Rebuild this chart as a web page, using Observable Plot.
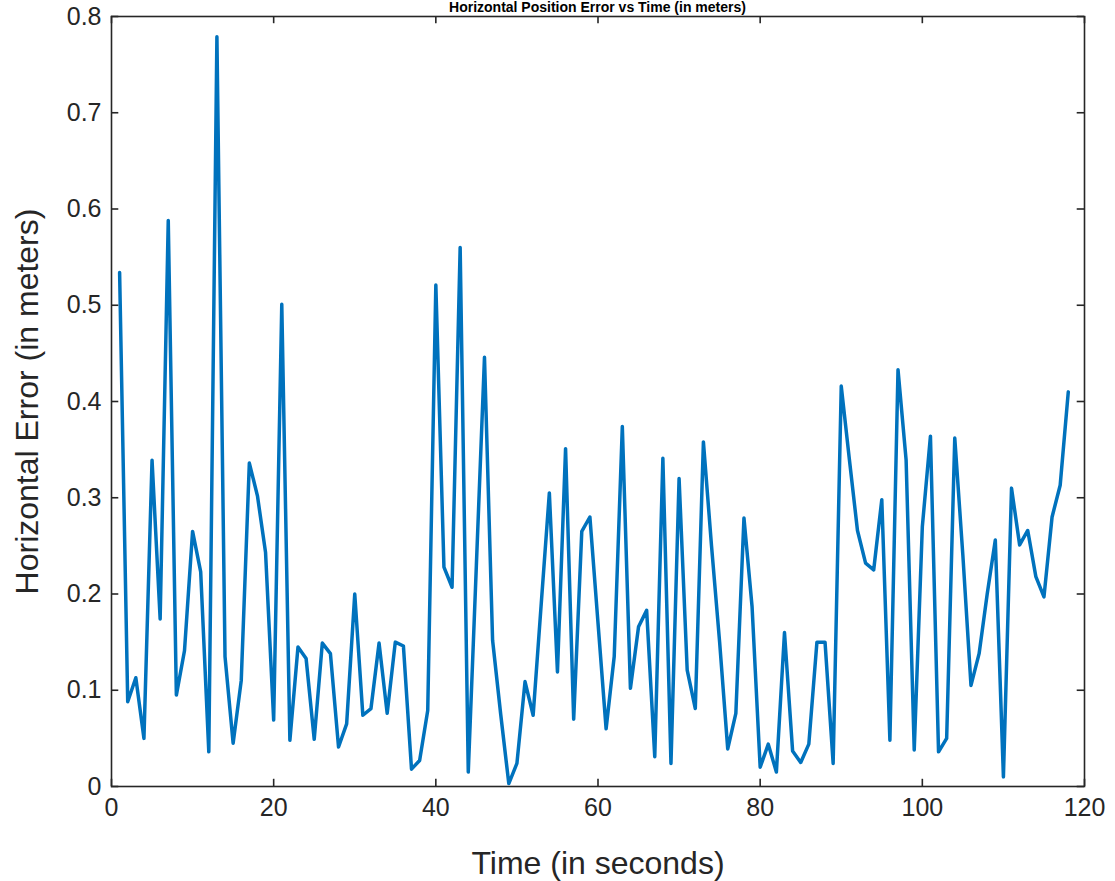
<!DOCTYPE html>
<html>
<head>
<meta charset="utf-8">
<script src="https://cdn.jsdelivr.net/npm/d3@7"></script>
<script src="https://cdn.jsdelivr.net/npm/@observablehq/plot@0.6"></script>
<style>
  html, body { margin: 0; padding: 0; background: #fff; overflow: hidden; }
  #wrap { position: relative; width: 1115px; height: 881px; overflow: hidden; }
  #title { position: absolute; left: 111px; width: 973px; top: 0px; text-align: center;
           font-family: "Liberation Sans", Arial, sans-serif; font-weight: bold; font-size: 14px;
           line-height: 14px; color: #000; white-space: nowrap; }
  #chart { position: absolute; left: 0; top: 0; }
</style>
</head>
<body>
<div id="wrap">
  <div id="chart"></div>
  <div id="title">Horizontal Position Error vs Time (in meters)</div>
</div>
<script>
const times = [1,2,3,4,5,6,7,8,9,10,11,12,13,14,15,16,17,18,19,20,
  21,22,23,24,25,26,27,28,29,30,31,32,33,34,35,36,37,38,39,40,
  41,42,43,44,45,46,47,48,49,50,51,52,53,54,55,56,57,58,59,60,
  61,62,63,64,65,66,67,68,69,70,71,72,73,74,75,76,77,78,79,80,
  81,82,83,84,85,86,87,88,89,90,91,92,93,94,95,96,97,98,99,100,
  101,102,103,104,105,106,107,108,109,110,111,112,113,114,115,116,117,118];
const errors = [0.534,0.088,0.113,0.050,0.339,0.174,0.588,0.095,0.141,0.265,
  0.223,0.036,0.779,0.135,0.045,0.110,0.336,0.302,0.243,0.069,
  0.501,0.048,0.145,0.133,0.049,0.149,0.138,0.041,0.065,0.200,
  0.074,0.081,0.149,0.076,0.150,0.146,0.018,0.027,0.079,0.521,
  0.228,0.207,0.560,0.015,0.230,0.446,0.152,0.075,0.003,0.024,
  0.109,0.074,0.190,0.305,0.119,0.351,0.070,0.265,0.280,0.170,
  0.060,0.135,0.374,0.102,0.166,0.183,0.031,0.341,0.024,0.320,
  0.121,0.081,0.358,0.250,0.150,0.039,0.076,0.279,0.187,0.020,
  0.044,0.015,0.160,0.037,0.025,0.044,0.150,0.150,0.024,0.416,
  0.340,0.266,0.232,0.225,0.298,0.048,0.433,0.339,0.038,0.270,
  0.364,0.036,0.050,0.362,0.240,0.105,0.138,0.200,0.256,0.010,
  0.310,0.251,0.266,0.218,0.197,0.280,0.313,0.410];
const xTicks = [0,20,40,60,80,100,120];
const yTicks = [0,0.1,0.2,0.3,0.4,0.5,0.6,0.7,0.8];
const yTickLabels = ["0","0.1","0.2","0.3","0.4","0.5","0.6","0.7","0.8"];
const xLabel = "Time (in seconds)";
const yLabel = "Horizontal Error (in meters)";

const data = times.map((t, i) => ({t, e: errors[i]}));
const axisColor = "#262626";
const font = "'Liberation Sans', Arial, sans-serif";

const chart = Plot.plot({
  width: 1115,
  height: 881,
  marginLeft: 111,
  marginRight: 31,
  marginTop: 16,
  marginBottom: 95,
  x: {domain: [0, 120]},
  y: {domain: [0, 0.8]},
  style: {fontFamily: font, fontSize: "25px", color: axisColor, background: "#fff", overflow: "visible"},
  marks: [
    Plot.line(data, {x: "t", y: "e", stroke: "#0072BD", strokeWidth: 3.5, strokeLinejoin: "round"}),
    Plot.frame({stroke: axisColor, strokeWidth: 1.6}),
    Plot.ruleX(xTicks, {x: d => d, y1: 0, y2: 0.0075, stroke: axisColor, strokeWidth: 1.6}),
    Plot.ruleX(xTicks, {x: d => d, y1: 0.8, y2: 0.7925, stroke: axisColor, strokeWidth: 1.6}),
    Plot.ruleY(yTicks, {y: d => d, x1: 0, x2: 0.9, stroke: axisColor, strokeWidth: 1.6}),
    Plot.ruleY(yTicks, {y: d => d, x1: 120, x2: 119.1, stroke: axisColor, strokeWidth: 1.6}),
    Plot.axisX(xTicks, {tickSize: 0, tickPadding: 12, label: null, fontSize: 25, fill: axisColor}),
    Plot.axisY(yTicks, {tickSize: 0, tickPadding: 10, label: null, fontSize: 25, fill: axisColor,
      tickFormat: d => yTickLabels[yTicks.indexOf(d)]}),
    Plot.text([xLabel], {text: d => d, frameAnchor: "bottom", dy: 77, fontSize: 32, fill: axisColor,
      textAnchor: "middle", lineAnchor: "middle"}),
    Plot.text([yLabel], {text: d => d, frameAnchor: "left", dx: -84, rotate: -90, fontSize: 32, fill: axisColor,
      textAnchor: "middle", lineAnchor: "middle"})
  ]
});
document.getElementById("chart").appendChild(chart);
</script>
</body>
</html>
